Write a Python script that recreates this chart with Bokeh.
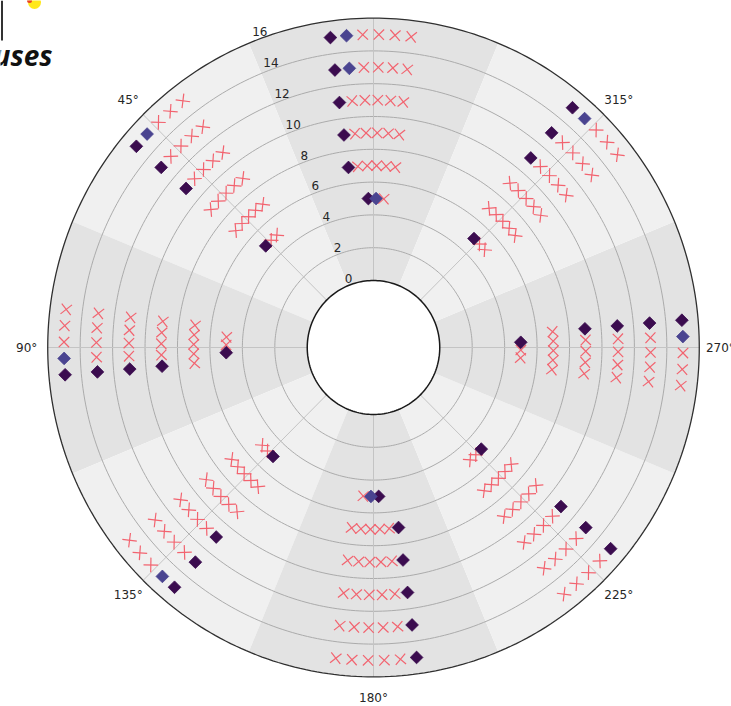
import math
from bokeh.plotting import figure
from bokeh.models import Range1d
from bokeh.embed import file_html
from bokeh.resources import INLINE
from bokeh.core.properties import value

# ---------------- data ----------------
directions = [0, 45, 90, 135, 180, 225, 270, 315]
# the 0° label lies outside the visible picture (cropped in the reference)
label_directions = [45, 90, 135, 180, 225, 270, 315]
direction_labels = ["45°", "90°", "135°", "180°", "225°", "270°", "315°"]
ring_ticks = [0, 2, 4, 6, 8, 10, 12, 14, 16]
ring_tick_labels = ["0", "2", "4", "6", "8", "10", "12", "14", "16"]
row_radii = [5, 7, 9, 11, 13, 15]

# angular offsets (degrees, counter-clockwise) of the marker slots of one group
slots_6 = [8, 5, 2, -1, -4, -7]
slots_5 = [5, 2, -1, -4, -7]
slots_3 = [2, -1, -4]

# marker kinds per group (one string per row radius), listed CCW -> CW
# D = dark diamond, B = blue diamond, X = cross
groups_0 = ["DBX", "DXXXXX", "DXXXXX", "DXXXXX", "DBXXXX", "DBXXXX"]
groups_45 = ["DXX", "XXXXX", "XXXXX", "DXXXX", "DXXXX", "DBXXX"]
groups_90 = ["DXX", "XXXXX", "DXXXX", "DXXXX", "DXXXX", "DBXXX"]
groups_135 = ["DXX", "XXXXX", "XXXXX", "DXXXX", "DXXXX", "DBXXX"]
groups_180 = ["DBX", "DXXXXX", "DXXXXX", "DXXXXX", "DXXXXX", "DXXXXX"]
groups_225 = ["DXX", "XXXXX", "XXXXX", "DXXXX", "DXXXX", "DXXXX"]
groups_270 = ["DXX", "XXXXX", "DXXXX", "DXXXX", "DXXXX", "DBXXX"]
groups_315 = ["DXX", "XXXXX", "XXXXX", "DXXXX", "DXXXX", "DBXXX"]
all_groups = [groups_0, groups_45, groups_90, groups_135,
              groups_180, groups_225, groups_270, groups_315]

# ---------------- layout / style ----------------
W, H = 731, 706
CX, CY = 373.0, 347.0          # centre in pixels
SX, SY = 16.22, 16.4            # pixels per radial unit (x, y)
HOLE = 4.085                    # radial offset of r=0 (inner hole)
RMAX = 16
CROSS_ARM = 7.3                 # half arm length of a cross, px

DARK_SECTOR = "#e3e3e3"
LIGHT_SECTOR = "#f0f0f0"
RING = "#ababab"
SPOKE = "#c4c4c4"
CROSS = "#f2636f"
DIA_DARK = "#3b0c4f"
DIA_BLUE = "#4a4490"
TXT = "#262626"


def pol(theta_deg, rho):
    t = math.radians(theta_deg)
    return -rho * math.sin(t), rho * math.cos(t)


def arc(rho, t0, t1, n=90):
    xs, ys = [], []
    for i in range(n + 1):
        x, y = pol(t0 + (t1 - t0) * i / n, rho)
        xs.append(x)
        ys.append(y)
    return xs, ys


def px(xp):
    return (xp - CX) / SX


def py(yp):
    return (CY - yp) / SY


p = figure(width=W, height=H,
           x_range=Range1d(-CX / SX, (W - CX) / SX),
           y_range=Range1d(-(H - CY) / SY, CY / SY),
           output_backend="svg", toolbar_location=None, min_border=0,
           x_axis_location=None, y_axis_location=None,
           outline_line_color=None,
           background_fill_color="white", border_fill_color="white")
p.grid.visible = False

# sectors
sx, sy, sc = [], [], []
for i, d in enumerate(directions):
    ox, oy = arc(HOLE + RMAX, d - 22.5, d + 22.5)
    ix, iy = arc(HOLE, d + 22.5, d - 22.5)
    sx.append(ox + ix)
    sy.append(oy + iy)
    sc.append(DARK_SECTOR if i % 2 == 0 else LIGHT_SECTOR)
p.patches(sx, sy, fill_color=sc, line_color=None)

# rings
rx, ry = [], []
for r in ring_ticks[1:-1]:
    xs, ys = arc(HOLE + r, 0, 360, 360)
    rx.append(xs)
    ry.append(ys)
p.multi_line(rx, ry, line_color=RING, line_width=1)

# spokes
kx, ky = [], []
for d in directions:
    a = pol(d, HOLE)
    b = pol(d, HOLE + RMAX)
    kx.append([a[0], b[0]])
    ky.append([a[1], b[1]])
p.multi_line(kx, ky, line_color=SPOKE, line_width=1)

# outer border and hole border
ox, oy = arc(HOLE + RMAX, 0, 360, 360)
p.line(ox, oy, line_color="#303030", line_width=1.3)
hx, hy = arc(HOLE, 0, 360, 200)
p.line(hx, hy, line_color="#1a1a1a", line_width=1.5)

# data markers
sx0, sy0, sx1, sy1 = [], [], [], []
dx_, dy_ = [], []
bx_, by_ = [], []
for d, groups in zip(directions, all_groups):
    for r, g in zip(row_radii, groups):
        slots = {6: slots_6, 5: slots_5, 3: slots_3}[len(g)]
        for kind, off in zip(g, slots):
            th = d + off
            x, y = pol(th, HOLE + r)
            if kind == "X":
                # cross turned with its direction (x at 0°, + at 45°)
                for arm in (45, -45):
                    ux, uy = pol(th + arm, CROSS_ARM)
                    sx0.append(x - ux / SX)
                    sy0.append(y - uy / SY)
                    sx1.append(x + ux / SX)
                    sy1.append(y + uy / SY)
            elif kind == "D":
                dx_.append(x)
                dy_.append(y)
            else:
                bx_.append(x)
                by_.append(y)

p.segment(sx0, sy0, sx1, sy1, line_color=CROSS, line_width=1.2)
p.scatter(dx_, dy_, marker="square", size=9, angle=math.pi / 4,
          fill_color=DIA_DARK, line_color=DIA_DARK, line_width=0.8)
p.scatter(bx_, by_, marker="square", size=9, angle=math.pi / 4,
          fill_color=DIA_BLUE, line_color=DIA_BLUE, line_width=0.8)

# radial tick labels
tlx, tly = [], []
for r in ring_ticks:
    x, y = pol(20, HOLE + r + 0.4)
    tlx.append(x)
    tly.append(y)
p.text(tlx, tly, text=ring_tick_labels, text_font=value("DejaVu Sans"),
       text_font_size="12px", text_align="center", text_baseline="middle",
       text_color=TXT)

# angular labels
alx, aly = [], []
for d in label_directions:
    x, y = pol(d, HOLE + RMAX + 1.3)
    alx.append(x)
    aly.append(y)
p.text(alx, aly, text=direction_labels, text_font=value("DejaVu Sans"),
       text_font_size="12px", text_align="center", text_baseline="middle",
       text_color=TXT)

# fragments of the surrounding slide (top-left corner)
p.line([px(1.5), px(1.5)], [py(0), py(40)], line_color="#333333", line_width=2)
p.scatter([px(34)], [py(2)], marker="circle", size=13, fill_color="#ffe81a",
          line_color=None)
p.scatter([px(29)], [py(0)], marker="circle", size=5, fill_color="#e8402a",
          line_color=None)
p.text([px(52)], [py(54)], text=["uses"], text_font=value("Open Sans"),
       text_font_size="28px", text_font_style="bold italic",
       text_align="right", text_baseline="middle", text_color="#111111")

open("out.html", "w").write(file_html(p, INLINE))
